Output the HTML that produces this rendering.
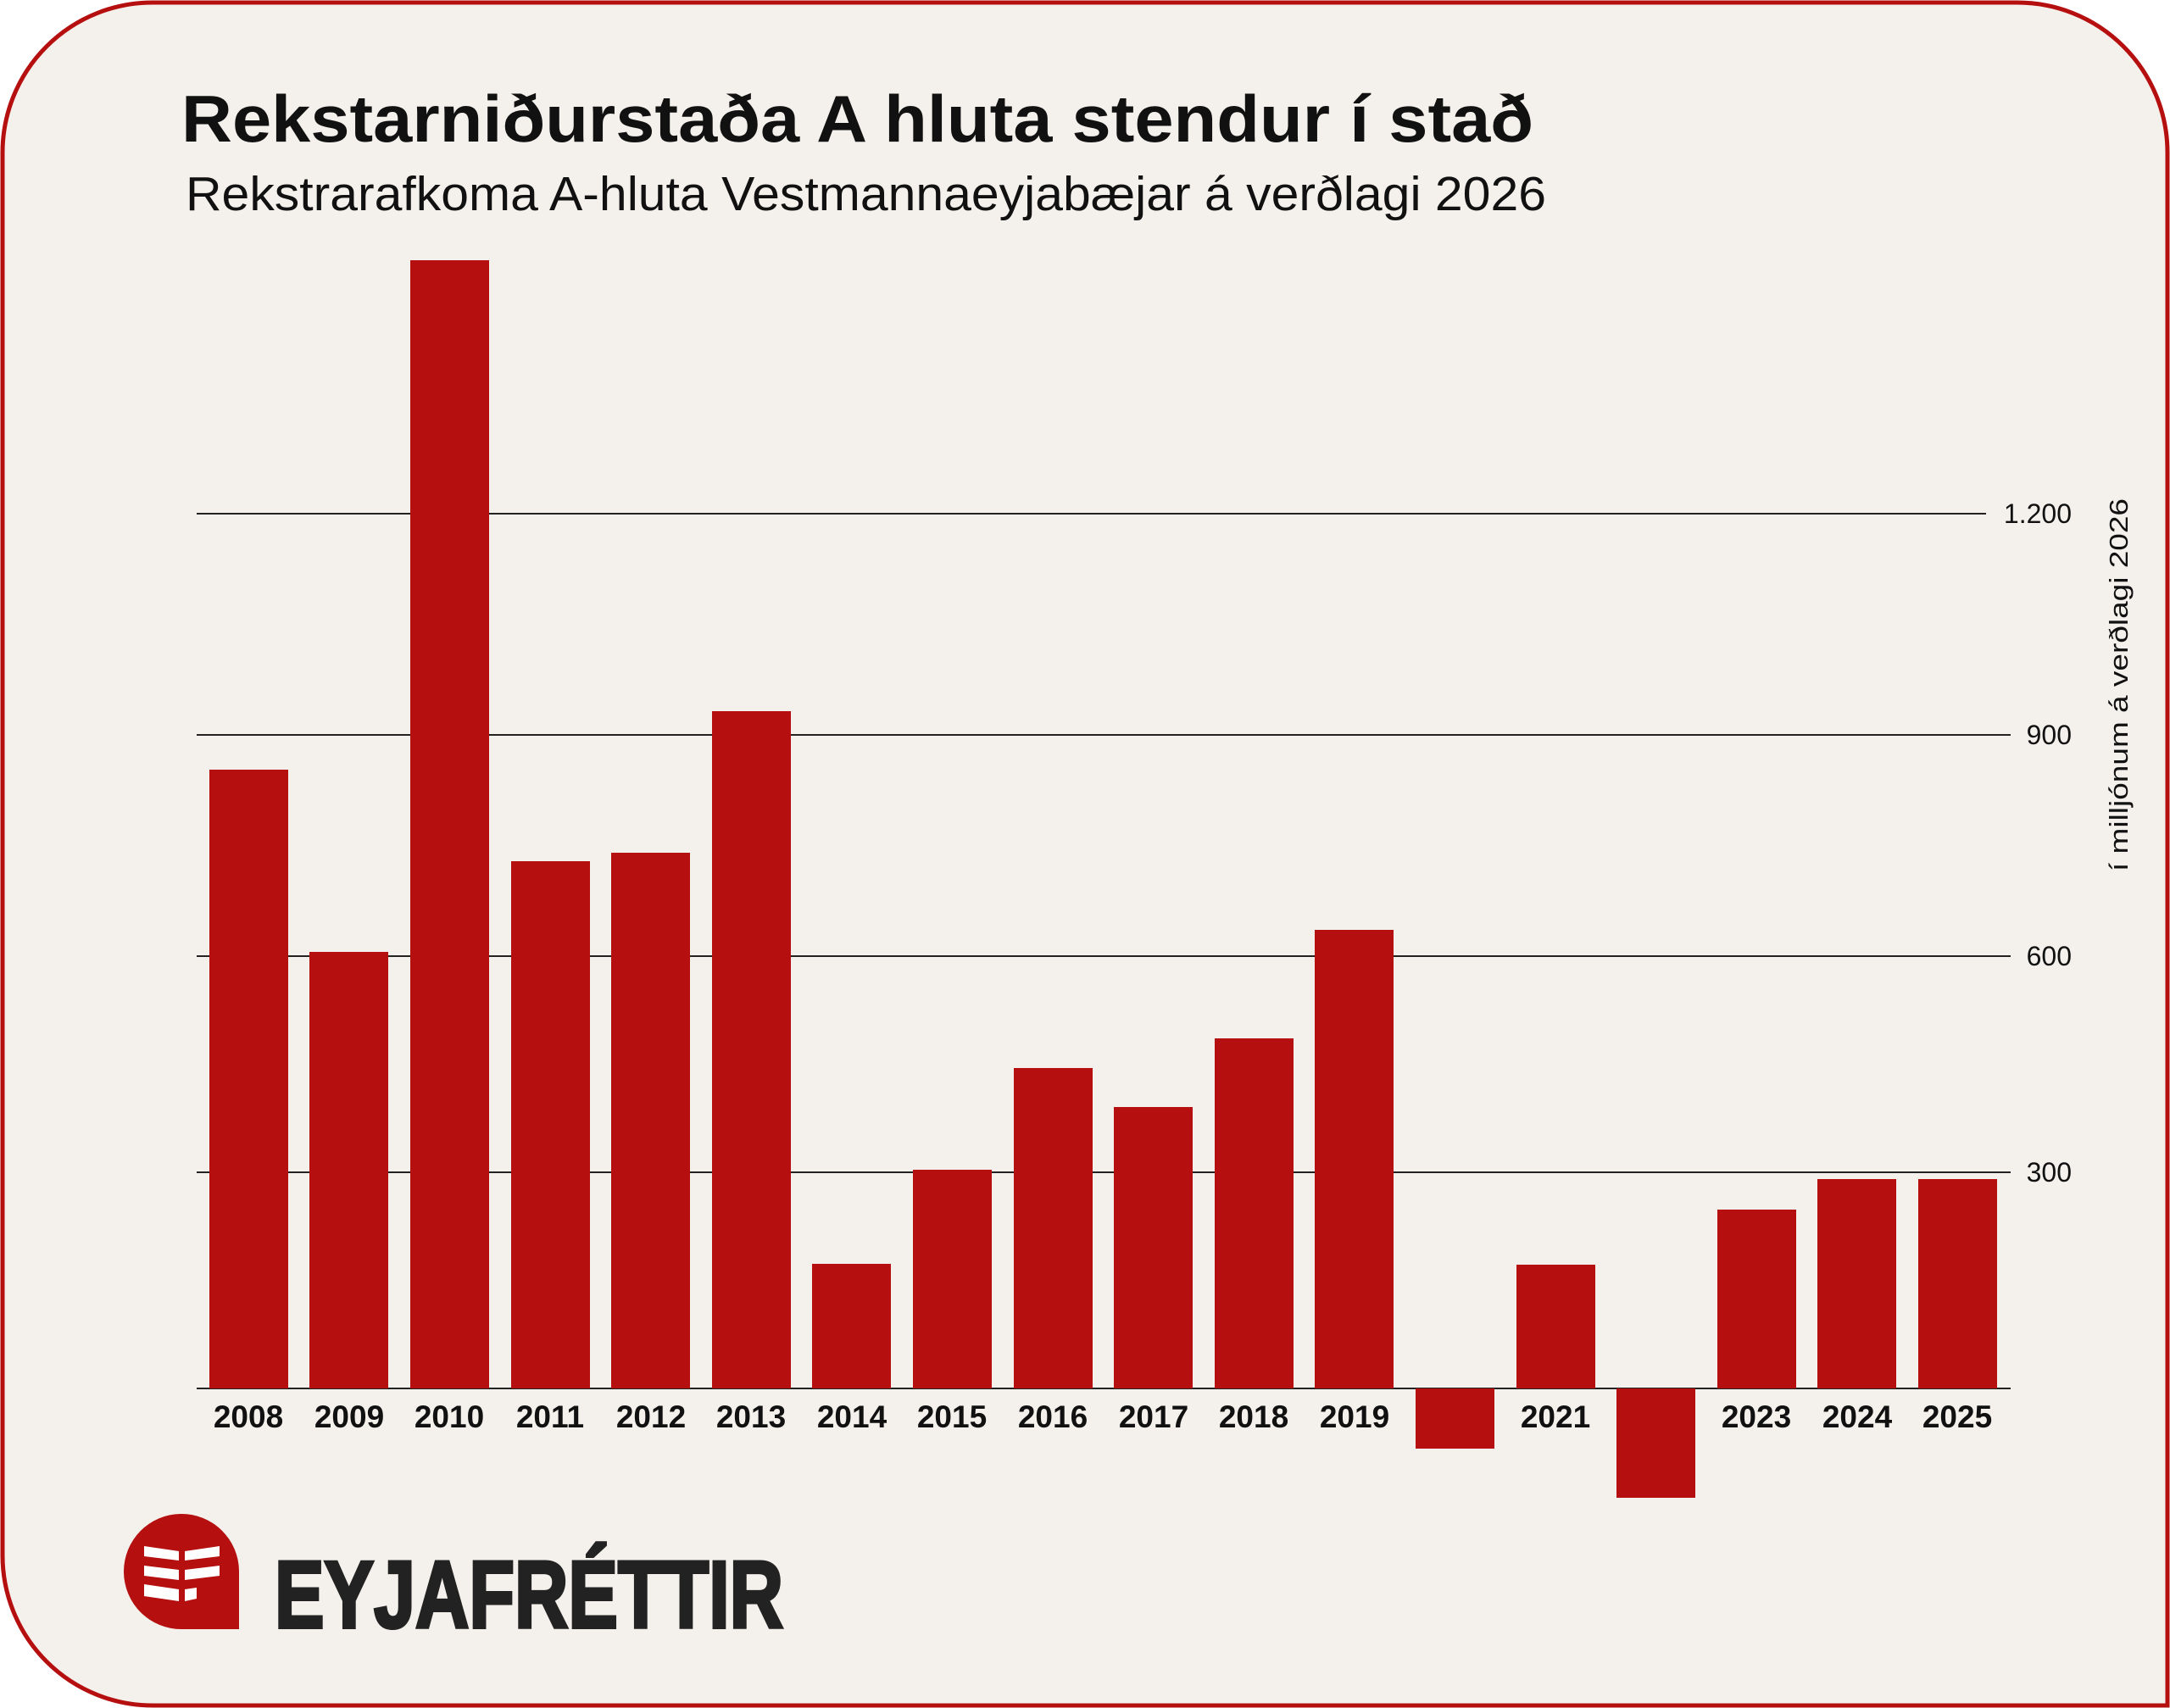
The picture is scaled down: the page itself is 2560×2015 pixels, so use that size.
<!DOCTYPE html>
<html><head><meta charset="utf-8"><style>
html,body{margin:0;padding:0;background:#fff;}
svg{display:block;}
</style></head><body>
<svg width="2560" height="2015" viewBox="0 0 2560 2015" xmlns="http://www.w3.org/2000/svg">
<path d="M180,3 H2380 A177,177 0 0 1 2557,180 V2012 H180 A177,177 0 0 1 3,1835 V180 A177,177 0 0 1 180,3 Z" fill="#f4f1ec" stroke="#b50f0f" stroke-width="5"/>
<text x="214" y="167" font-family="Liberation Sans, sans-serif" font-weight="bold" font-size="78" fill="#111" textLength="1595" lengthAdjust="spacingAndGlyphs">Rekstarniðurstaða A hluta stendur í stað</text>
<text x="219" y="248" font-family="Liberation Sans, sans-serif" font-size="57" fill="#111" textLength="1605" lengthAdjust="spacingAndGlyphs">Rekstrarafkoma A-hluta Vestmannaeyjabæjar á verðlagi 2026</text>
<g stroke="#222" stroke-width="2">
<line x1="232" y1="606" x2="2343" y2="606"/>
<line x1="232" y1="867" x2="2372" y2="867"/>
<line x1="232" y1="1128" x2="2372" y2="1128"/>
<line x1="232" y1="1383" x2="2372" y2="1383"/>
<line x1="232" y1="1638" x2="2372" y2="1638"/>
</g>
<g font-family="Liberation Sans, sans-serif" font-size="32" fill="#111" text-anchor="end">
<text x="2444" y="617">1.200</text>
<text x="2444" y="878">900</text>
<text x="2444" y="1139">600</text>
<text x="2444" y="1394">300</text>
</g>
<text transform="translate(2510,808) rotate(-90)" text-anchor="middle" font-family="Liberation Sans, sans-serif" font-size="31" fill="#111" textLength="440" lengthAdjust="spacingAndGlyphs">í milljónum á verðlagi 2026</text>
<g fill="#b50f0f">
<rect x="247" y="908" width="93" height="730"/>
<rect x="365" y="1123" width="93" height="515"/>
<rect x="484" y="307" width="93" height="1331"/>
<rect x="603" y="1016" width="93" height="622"/>
<rect x="721" y="1006" width="93" height="632"/>
<rect x="840" y="839" width="93" height="799"/>
<rect x="958" y="1491" width="93" height="147"/>
<rect x="1077" y="1380" width="93" height="258"/>
<rect x="1196" y="1260" width="93" height="378"/>
<rect x="1314" y="1306" width="93" height="332"/>
<rect x="1433" y="1225" width="93" height="413"/>
<rect x="1551" y="1097" width="93" height="541"/>
<rect x="1670" y="1638" width="93" height="71"/>
<rect x="1789" y="1492" width="93" height="146"/>
<rect x="1907" y="1638" width="93" height="129"/>
<rect x="2026" y="1427" width="93" height="211"/>
<rect x="2144" y="1391" width="93" height="247"/>
<rect x="2263" y="1391" width="93" height="247"/>
</g>
<g font-family="Liberation Sans, sans-serif" font-weight="bold" font-size="37" fill="#111" text-anchor="middle">
<text x="293" y="1684">2008</text>
<text x="412" y="1684">2009</text>
<text x="530" y="1684">2010</text>
<text x="649" y="1684">2011</text>
<text x="768" y="1684">2012</text>
<text x="886" y="1684">2013</text>
<text x="1005" y="1684">2014</text>
<text x="1123" y="1684">2015</text>
<text x="1242" y="1684">2016</text>
<text x="1361" y="1684">2017</text>
<text x="1479" y="1684">2018</text>
<text x="1598" y="1684">2019</text>
<text x="1835" y="1684">2021</text>
<text x="2072" y="1684">2023</text>
<text x="2191" y="1684">2024</text>
<text x="2309" y="1684">2025</text>
</g>
<path d="M282,1922 H214 A68,68 0 1 1 282,1853 Z" fill="#b50f0f"/>
<g fill="#fff">
<polygon points="170,1824 211,1830 211,1841 170,1836"/>
<polygon points="218,1830 259,1824 259,1836 218,1841"/>
<polygon points="170,1847 211,1852 211,1864 170,1859"/>
<polygon points="218,1852 259,1847 259,1859 218,1864"/>
<polygon points="170,1869 211,1875 211,1889 170,1883"/>
<polygon points="218,1875 232,1873 232,1886 218,1889"/>
</g>
<text x="324" y="1920" font-family="Liberation Sans, sans-serif" font-weight="bold" font-size="112" fill="#222" stroke="#222" stroke-width="4" textLength="600" lengthAdjust="spacingAndGlyphs">EYJAFRÉTTIR</text>
</svg>
</body></html>
